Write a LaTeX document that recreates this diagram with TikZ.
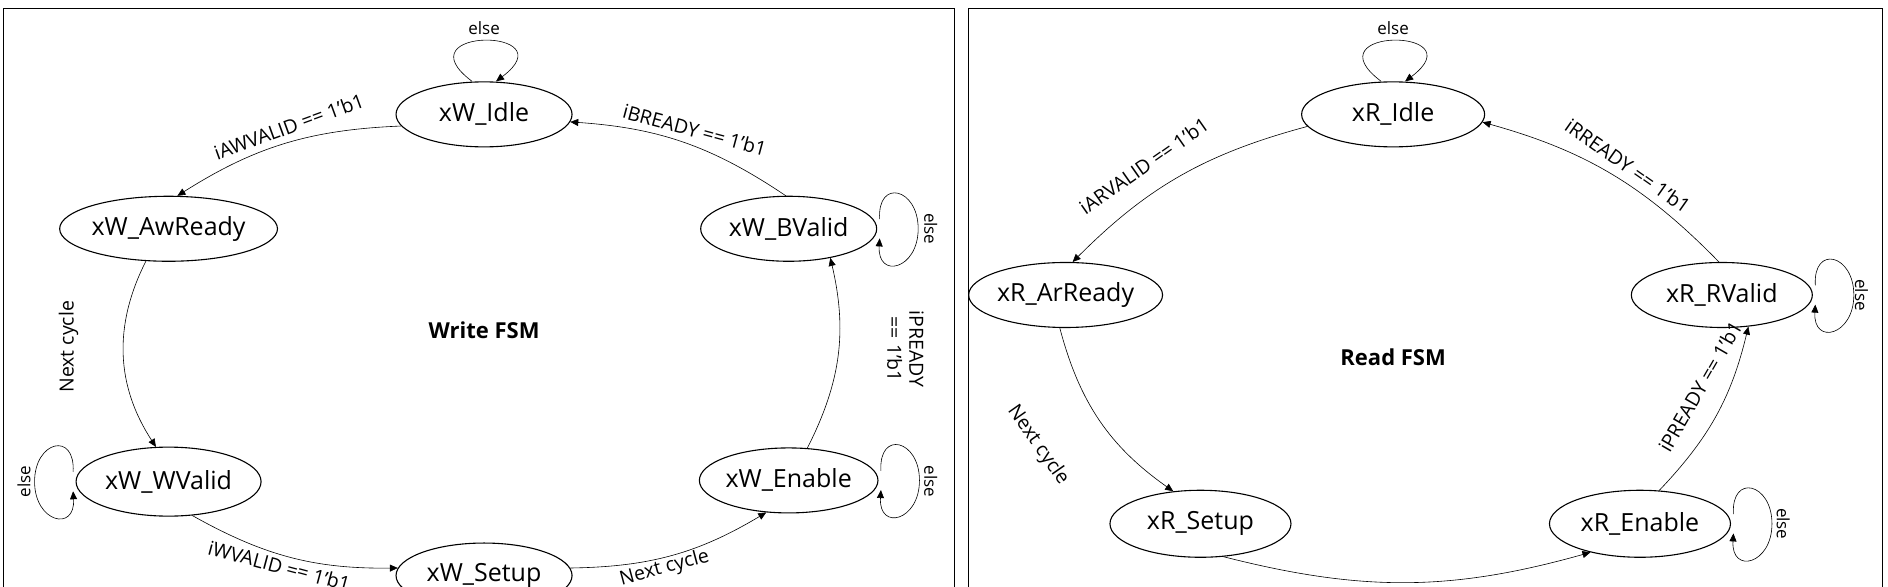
\documentclass[tikz,border=0pt]{standalone}
\usepackage{fontspec}
\setmainfont{Open Sans}
\usetikzlibrary{shapes.geometric,arrows.meta}
\begin{document}
\begin{tikzpicture}[x=1.204pt,y=1.204pt,
  st/.style={draw,ellipse,line width=1.1pt,minimum width=176pt,minimum height=65pt,inner sep=0pt,font=\fontsize{25}{27}\selectfont},
  ar/.style={-{Triangle[length=8pt,width=7pt]},line width=0.6pt},
  lb/.style={font=\fontsize{19.5}{22}\selectfont,inner sep=1pt},
  el/.style={font=\fontsize{17}{19}\selectfont,inner sep=1pt},
  rloop/.style={insert path={++(2,8) .. controls +(-2,34) and +(0,34) .. ++(32,-8) .. controls +(0,-34) and +(-2,-34) .. ++(-32,-8)}},
  lloop/.style={insert path={++(-2,8) .. controls +(2,34) and +(0,34) .. ++(-32,-8) .. controls +(0,-34) and +(2,-34) .. ++(32,-8)}}]
\useasboundingbox (0,0) rectangle (1568,487);
\draw[line width=0.8pt] (3,-30) -- (3,480) -- (793,480) -- (793,-30);
\draw[line width=0.8pt] (804,-30) -- (804,480) -- (1563,480) -- (1563,-30);
% Write FSM
\node[font=\bfseries\fontsize{22}{24}\selectfont] (wt) at (402,213) {Write FSM};
\node[st] (widle) at (402,392) {xW\_Idle};
\node[st,minimum width=181pt] (waw) at (140,297) {xW\_AwReady};
\node[st] (wbv) at (655,297) {xW\_BValid};
\node[st,minimum width=185pt,minimum height=69pt] (wwv) at (140,87) {xW\_WValid};
\node[st] (wen) at (655,88) {xW\_Enable};
\node[st] (wse) at (402,9) {xW\_Setup};
\draw[ar] (widle.188) to[bend right=15] (waw.75);
\draw[ar] (waw.235) to[bend right=30] (wwv.110);
\draw[ar] (wwv.-55) to[bend right=15] (wse.175);
\draw[ar] (wse.5) to[bend right=15] (wen.-125);
\draw[ar] (wen.60) to[bend right=20] (wbv.-35);
\draw[ar] (wbv.95) to[bend right=15] (widle.-5);
\node[lb,rotate=20] (l1) at (240,382) {iAWVALID == 1'b1};
\node[lb,rotate=90] (l2) at (57,199) {Next cycle};
\node[lb,rotate=-15] (l3) at (232,17) {iWVALID == 1'b1};
\node[lb,rotate=15] (l4) at (552,15) {Next cycle};
\node[lb,rotate=-90,align=center] (l5) at (752,197) {iPREADY\\== 1'b1};
\node[lb,rotate=-15] (l6) at (577,379) {iBREADY == 1'b1};
\draw[ar] ([xshift=-12]widle.north) .. controls +(-60,45) and +(60,45) .. ([xshift=12]widle.north);
\draw[ar] (wbv.east) [rloop];
\draw[ar] (wen.east) [rloop];
\draw[ar] (wwv.west) [lloop];
\node[el] (e1) at (402,464) {else};
\node[el,rotate=-90] (e2) at (773,297) {else};
\node[el,rotate=-90] (e3) at (773,87) {else};
\node[el,rotate=90] (e4) at (20,87) {else};
% Read FSM
\node[font=\bfseries\fontsize{22}{24}\selectfont] (rt) at (1157,190) {Read FSM};
\node[st,minimum width=183pt] (ridle) at (1157,392) {xR\_Idle};
\node[st,minimum width=181pt] (rar) at (885,242) {xR\_ArReady};
\node[st,minimum width=181pt] (rrv) at (1430,242) {xR\_RValid};
\node[st,minimum width=181pt,minimum height=67pt] (rse) at (997,52) {xR\_Setup};
\node[st,minimum width=181pt,minimum height=67pt] (ren) at (1362,52) {xR\_Enable};
\draw[ar] (ridle.188) to[bend right=15] (rar.78);
\draw[ar] (rar.-100) to[bend right=20] (rse.130);
\draw[ar] (rse.-55) to[bend right=15] (ren.-150);
\draw[ar] (ren.60) to[bend right=15] (rrv.-50);
\draw[ar] (rrv.95) to[bend right=15] (ridle.-5);
\node[lb,rotate=35] (m1) at (950,349) {iARVALID == 1'b1};
\node[lb,rotate=-55] (m2) at (862,117) {Next cycle};
\node[lb,rotate=60] (m3) at (1412,166) {iPREADY == 1'b1};
\node[lb,rotate=-35] (m4) at (1352,349) {iRREADY == 1'b1};
\draw[ar] ([xshift=-12]ridle.north) .. controls +(-60,45) and +(60,45) .. ([xshift=12]ridle.north);
\draw[ar] (rrv.east) [rloop];
\draw[ar] (ren.east) [rloop];
\node[el] (f1) at (1157,464) {else};
\node[el,rotate=-90] (f2) at (1546,242) {else};
\node[el,rotate=-90] (f3) at (1481,52) {else};
\end{tikzpicture}
\end{document}
